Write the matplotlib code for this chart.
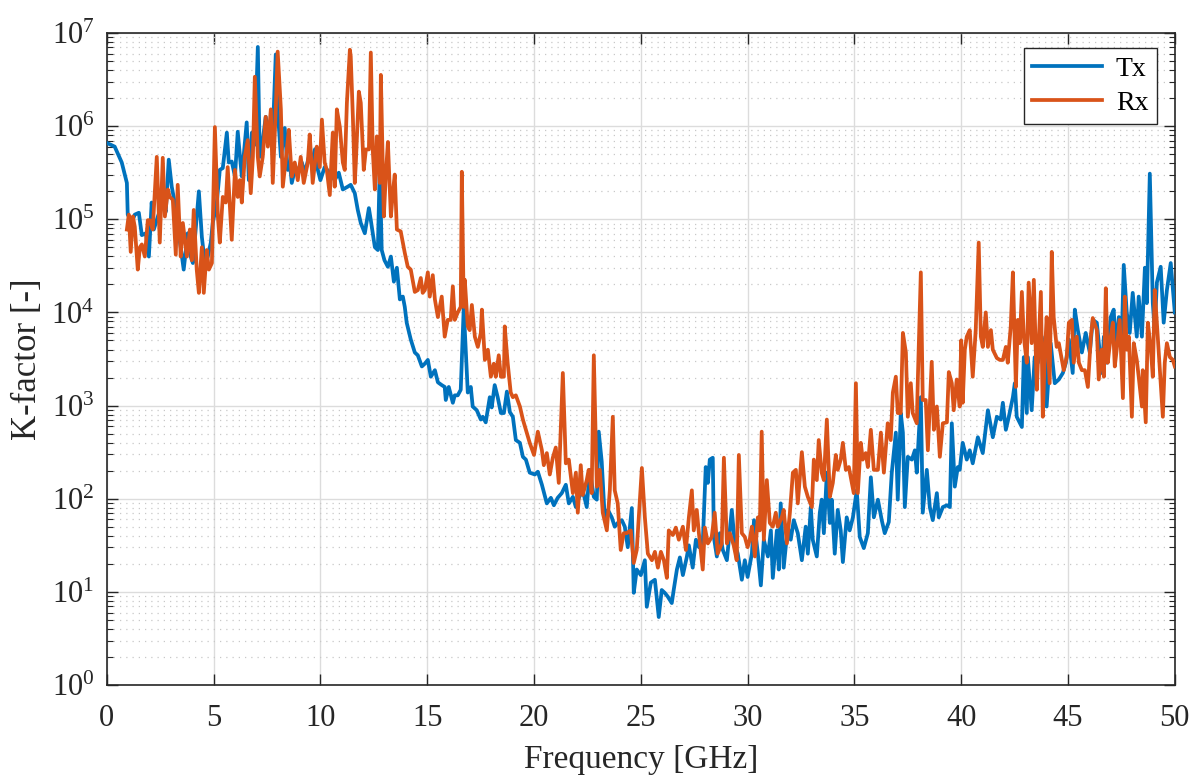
import numpy as np
import matplotlib
matplotlib.use("Agg")
import matplotlib.pyplot as plt
from matplotlib.ticker import LogLocator, MultipleLocator, NullFormatter

# === Data (frequency in GHz, log10 of K-factor) ===
tx_freq = [
    0.0, 0.37, 0.7, 0.94, 0.98, 1.17, 1.31, 1.5, 1.64, 1.83, 1.97, 2.1, 2.2, 2.39, 2.62, 2.76,
    2.9, 3.04, 3.18, 3.33, 3.46, 3.6, 3.79, 3.93, 4.03, 4.31, 4.45, 4.59, 4.73, 4.87, 4.96,
    5.15, 5.29, 5.43, 5.62, 5.71, 5.85, 6.0, 6.13, 6.32, 6.55, 6.65, 6.79, 6.93, 7.07, 7.16,
    7.3, 7.44, 7.54, 7.68, 7.77, 7.91, 8.0, 8.15, 8.33, 8.47, 8.57, 8.66, 8.8, 8.94, 9.13,
    9.27, 9.46, 9.6, 9.74, 9.88, 10.0, 10.2, 10.44, 10.67, 10.86, 11.05, 11.28, 11.42, 11.61,
    11.75, 11.89, 12.08, 12.27, 12.36, 12.55, 12.69, 12.78, 12.87, 13.0, 13.16, 13.3, 13.44,
    13.58, 13.72, 13.86, 13.95, 14.04, 14.23, 14.42, 14.56, 14.75, 14.89, 15.03, 15.17, 15.36,
    15.5, 15.68, 15.82, 15.87, 16.01, 16.2, 16.29, 16.43, 16.57, 16.71, 16.81, 16.9, 17.04,
    17.13, 17.32, 17.51, 17.6, 17.74, 17.93, 18.02, 18.16, 18.3, 18.45, 18.59, 18.73, 18.87,
    19.01, 19.15, 19.34, 19.48, 19.62, 19.8, 20.04, 20.18, 20.37, 20.6, 20.79, 20.93, 21.11,
    21.3, 21.49, 21.63, 21.82, 21.96, 22.1, 22.28, 22.47, 22.61, 22.8, 22.94, 23.03, 23.17,
    23.31, 23.46, 23.64, 23.78, 23.92, 24.11, 24.25, 24.39, 24.58, 24.67, 24.81, 25.0, 25.19,
    25.28, 25.47, 25.66, 25.84, 25.98, 26.12, 26.26, 26.45, 26.54, 26.69, 26.83, 26.97, 27.15,
    27.25, 27.43, 27.58, 27.72, 27.9, 28.04, 28.14, 28.23, 28.37, 28.42, 28.56, 28.7, 28.84,
    29.03, 29.26, 29.4, 29.54, 29.73, 29.87, 30.0, 30.2, 30.3, 30.48, 30.62, 30.76, 30.95,
    31.09, 31.18, 31.37, 31.46, 31.55, 31.69, 31.88, 32.02, 32.16, 32.35, 32.54, 32.72, 32.82,
    32.96, 33.05, 33.24, 33.38, 33.47, 33.57, 33.71, 33.85, 33.94, 34.08, 34.22, 34.36, 34.46,
    34.64, 34.78, 34.93, 35.11, 35.25, 35.44, 35.63, 35.77, 35.91, 36.1, 36.28, 36.42, 36.61,
    36.75, 36.94, 37.03, 37.17, 37.27, 37.36, 37.5, 37.69, 37.83, 37.92, 38.11, 38.2, 38.39,
    38.53, 38.67, 38.86, 38.95, 39.14, 39.33, 39.47, 39.56, 39.7, 39.84, 39.93, 40.07, 40.26,
    40.4, 40.54, 40.78, 41.01, 41.25, 41.48, 41.67, 41.85, 41.95, 42.09, 42.23, 42.42, 42.51,
    42.6, 42.84, 42.93, 43.07, 43.12, 43.3, 43.44, 43.59, 43.77, 43.91, 44.0, 44.19, 44.38,
    44.57, 44.76, 44.9, 45.04, 45.22, 45.32, 45.46, 45.65, 45.83, 46.02, 46.16, 46.35, 46.58,
    46.68, 46.82, 47.0, 47.14, 47.24, 47.38, 47.52, 47.61, 47.75, 47.89, 48.03, 48.22, 48.31,
    48.46, 48.6, 48.69, 48.83, 48.97, 49.06, 49.16, 49.34, 49.48, 49.63, 49.81, 50.0,
]
tx_log = [
    5.82, 5.78, 5.61, 5.39, 5.05, 4.97, 5.05, 5.07, 4.83, 4.85, 4.60, 5.18, 4.89, 5.03, 5.18, 5.08,
    5.64, 5.35, 5.18, 4.89, 4.70, 4.46, 4.85, 4.60, 4.53, 5.30, 4.81, 4.53, 4.60, 4.75, 4.96,
    5.18, 5.53, 5.55, 5.93, 5.61, 5.62, 5.46, 5.94, 5.46, 6.04, 5.42, 5.93, 5.80, 6.85, 5.67,
    5.85, 6.10, 5.96, 6.07, 5.89, 6.77, 6.18, 5.67, 5.98, 5.53, 5.61, 5.39, 5.53, 5.53, 5.61,
    5.50, 5.67, 5.61, 5.75, 5.53, 5.42, 5.56, 5.50, 5.42, 5.50, 5.32, 5.35, 5.37, 5.28,
    5.10, 4.96, 4.85, 5.12, 4.99, 4.70, 4.67, 5.59, 4.67, 4.56, 4.49, 4.60, 4.33,
    4.48, 4.14, 4.17, 4.06, 3.89, 3.71, 3.57, 3.54, 3.42, 3.45, 3.49, 3.31, 3.38,
    3.25, 3.22, 3.20, 3.06, 3.20, 3.03, 3.11, 3.11, 3.17, 4.05, 3.57, 3.14, 3.20,
    2.99, 2.95, 2.85, 2.88, 2.82, 3.09, 2.98, 3.22, 3.09, 2.92, 2.92, 3.15, 2.93,
    2.88, 2.63, 2.60, 2.45, 2.42, 2.28, 2.26, 2.29, 2.15, 1.95, 2.01, 1.93, 2.01,
    2.06, 2.15, 1.95, 2.02, 1.91, 2.01, 2.09, 1.91, 2.31, 2.02, 1.99, 2.72, 2.40,
    1.80, 1.88, 1.80, 1.70, 1.74, 1.77, 1.70, 1.48, 1.90, 0.99, 1.24, 1.18, 1.34,
    0.84, 1.10, 1.13, 0.73, 1.02, 0.99, 0.95, 0.88, 1.02, 1.24, 1.37, 1.18, 1.37,
    1.50, 1.26, 1.56, 1.48, 1.52, 2.34, 2.17, 2.42, 2.44, 1.59, 1.38, 1.63, 1.45,
    1.34, 1.88, 1.52, 1.41, 1.13, 1.34, 1.16, 1.41, 1.77, 1.41, 1.07, 1.56, 1.38,
    1.66, 1.15, 1.66, 1.24, 1.95, 1.26, 1.70, 1.56, 1.77, 1.63, 1.34, 1.70, 1.41,
    1.91, 1.56, 1.38, 1.85, 1.99, 1.63, 2.28, 1.74, 1.99, 1.41, 1.88, 1.66, 1.32,
    1.80, 1.66, 1.80, 2.09, 1.59, 1.47, 1.63, 2.23, 1.80, 1.99, 1.77, 1.63, 1.75,
    2.28, 2.71, 1.99, 2.92, 2.71, 1.91, 2.45, 2.42, 2.52, 2.28, 3.09, 1.85, 2.31,
    1.91, 1.77, 2.06, 1.80, 1.91, 1.93, 1.91, 2.81, 2.13, 2.34, 2.31, 2.60, 2.42,
    2.52, 2.38, 2.66, 2.49, 2.95, 2.66, 2.88, 2.85, 3.03, 2.74, 2.88, 3.09, 3.24,
    2.88, 2.77, 3.52, 2.92, 3.52, 2.95, 3.52, 3.46, 3.74, 3.57, 2.99, 3.67, 3.24,
    3.28, 3.35, 3.46, 3.71, 3.35, 4.03, 3.81, 3.57, 3.78, 3.57, 3.92, 3.89, 3.35,
    3.74, 3.46, 3.95, 4.03, 3.60, 3.95, 3.74, 4.51, 4.00, 3.78, 4.21, 3.74, 4.17,
    3.74, 4.48, 4.10, 5.49, 4.10, 3.81, 4.32, 4.49, 3.89, 4.24, 4.53, 4.00,
]

rx_freq = [
    0.94, 1.03, 1.12, 1.22, 1.31, 1.45, 1.55, 1.64, 1.78, 1.92, 2.01, 2.15, 2.34, 2.48, 2.62,
    2.72, 2.86, 2.95, 3.09, 3.23, 3.32, 3.46, 3.56, 3.75, 3.89, 3.98, 4.07, 4.21, 4.31, 4.45,
    4.54, 4.68, 4.78, 4.92, 5.06, 5.2, 5.29, 5.43, 5.57, 5.66, 5.85, 6.0, 6.13, 6.23, 6.32,
    6.46, 6.6, 6.74, 6.84, 6.93, 7.07, 7.16, 7.3, 7.44, 7.54, 7.68, 7.77, 7.91, 8.0, 8.15,
    8.24, 8.43, 8.52, 8.66, 8.8, 8.94, 9.08, 9.22, 9.41, 9.5, 9.64, 9.83, 9.97, 10.07, 10.2,
    10.3, 10.44, 10.58, 10.67, 10.77, 10.91, 11.05, 11.14, 11.24, 11.38, 11.42, 11.52, 11.61,
    11.66, 11.8, 11.89, 12.03, 12.13, 12.27, 12.36, 12.45, 12.55, 12.64, 12.78, 12.83, 12.97,
    13.06, 13.16, 13.3, 13.39, 13.48, 13.58, 13.76, 13.95, 14.09, 14.23, 14.42, 14.56, 14.7,
    14.79, 14.89, 15.03, 15.12, 15.26, 15.36, 15.5, 15.68, 15.82, 15.96, 16.1, 16.2, 16.29,
    16.43, 16.57, 16.62, 16.71, 16.76, 16.9, 16.99, 17.09, 17.23, 17.37, 17.51, 17.56, 17.7,
    17.84, 17.98, 18.12, 18.21, 18.35, 18.45, 18.59, 18.63, 18.77, 18.91, 19.01, 19.15, 19.34,
    19.48, 19.62, 19.8, 20.0, 20.18, 20.37, 20.46, 20.6, 20.74, 20.88, 21.02, 21.16, 21.35,
    21.49, 21.63, 21.82, 21.96, 22.05, 22.19, 22.28, 22.47, 22.56, 22.7, 22.8, 22.94, 23.08,
    23.22, 23.41, 23.55, 23.69, 23.78, 23.92, 24.06, 24.2, 24.34, 24.53, 24.67, 24.81, 25.05,
    25.19, 25.33, 25.52, 25.66, 25.8, 25.94, 26.08, 26.22, 26.31, 26.5, 26.64, 26.78, 26.97,
    27.11, 27.25, 27.39, 27.48, 27.62, 27.72, 27.9, 28.0, 28.14, 28.32, 28.46, 28.6, 28.79,
    28.89, 29.03, 29.17, 29.35, 29.49, 29.59, 29.73, 29.87, 30.0, 30.1, 30.2, 30.34, 30.48,
    30.57, 30.66, 30.76, 30.9, 31.04, 31.18, 31.32, 31.41, 31.6, 31.69, 31.84, 31.98, 32.12,
    32.26, 32.35, 32.54, 32.68, 32.82, 33.01, 33.1, 33.24, 33.33, 33.47, 33.57, 33.71, 33.85,
    33.99, 34.13, 34.22, 34.36, 34.46, 34.6, 34.74, 34.88, 34.97, 35.07, 35.16, 35.3, 35.39,
    35.53, 35.63, 35.77, 35.91, 36.1, 36.24, 36.38, 36.56, 36.7, 36.8, 36.94, 37.03, 37.17,
    37.27, 37.41, 37.5, 37.64, 37.73, 37.92, 37.97, 38.11, 38.2, 38.34, 38.44, 38.62, 38.72,
    38.86, 39.0, 39.14, 39.33, 39.42, 39.56, 39.65, 39.79, 39.93, 40.0, 40.07, 40.17, 40.26,
    40.4, 40.54, 40.68, 40.82, 40.92, 41.01, 41.15, 41.25, 41.39, 41.48, 41.67, 41.81, 41.95,
    42.09, 42.18, 42.32, 42.42, 42.56, 42.65, 42.74, 42.84, 42.93, 43.07, 43.16, 43.3, 43.4,
    43.54, 43.59, 43.73, 43.82, 43.91, 44.0, 44.14, 44.24, 44.33, 44.47, 44.57, 44.71, 44.8,
    44.94, 45.04, 45.18, 45.27, 45.41, 45.51, 45.65, 45.79, 45.93, 46.07, 46.16, 46.35, 46.44,
    46.58, 46.68, 46.77, 46.86, 47.0, 47.1, 47.19, 47.28, 47.42, 47.57, 47.66, 47.75, 47.85,
    47.99, 48.08, 48.22, 48.31, 48.46, 48.5, 48.64, 48.74, 48.88, 48.97, 49.06, 49.16, 49.3,
    49.44, 49.53, 49.63, 49.77, 49.91, 50.0,
]
rx_log = [
    4.89, 5.05, 4.65, 5.03, 4.92, 4.46, 4.70, 4.73, 4.60, 4.99, 4.99, 4.89, 5.67, 4.75, 5.66,
    5.03, 5.32, 5.24, 5.21, 4.62, 5.37, 4.60, 4.96, 4.60, 4.89, 4.56, 5.10, 4.46, 4.21, 4.70,
    4.21, 4.67, 4.46, 4.53, 5.99, 5.03, 4.75, 5.24, 5.18, 5.56, 4.78, 5.53, 5.24, 5.42, 5.18,
    5.67, 5.85, 5.28, 5.67, 6.53, 5.67, 5.46, 5.67, 6.10, 5.78, 6.18, 5.39, 6.18, 6.80, 6.18,
    5.35, 5.75, 5.96, 5.46, 5.61, 5.42, 5.67, 5.39, 5.61, 5.91, 5.39, 5.78, 5.56, 6.07, 5.61,
    5.53, 5.26, 5.93, 5.35, 6.18, 5.99, 5.61, 5.53, 6.25, 6.82, 6.75, 6.10, 5.39,
    5.61, 6.37, 6.25, 5.53, 5.75, 5.75, 6.79, 5.75, 5.32, 5.89, 5.39, 6.55, 5.03,
    5.46, 5.83, 5.03, 5.28, 5.48, 4.89, 4.87, 4.64, 4.49, 4.46, 4.22, 4.24, 4.37,
    4.21, 4.24, 4.43, 4.17, 4.40, 4.14, 3.95, 4.17, 3.74, 3.92, 3.92, 4.28, 3.92,
    4.00, 4.06, 5.51, 4.06, 4.35, 3.85, 3.81, 4.08, 3.74, 3.63, 3.78, 4.03, 3.49,
    3.60, 3.31, 3.45, 3.31, 3.54, 3.31, 3.31, 3.85, 3.45, 3.14, 3.09, 3.11, 2.99,
    2.85, 2.74, 2.60, 2.47, 2.72, 2.52, 2.36, 2.49, 2.26, 2.44, 2.55, 2.17, 3.35,
    2.38, 2.42, 2.06, 2.28, 1.85, 2.36, 2.04, 2.20, 2.31, 2.06, 3.54, 2.13, 2.31,
    1.85, 1.66, 2.09, 2.88, 2.09, 1.95, 1.45, 1.63, 1.63, 1.66, 1.31, 1.45, 2.33,
    1.80, 1.41, 1.34, 1.43, 1.26, 1.43, 1.34, 1.15, 1.66, 1.61, 1.69, 1.56, 1.70,
    1.45, 1.80, 2.09, 1.66, 1.88, 1.63, 1.24, 1.69, 1.52, 1.59, 1.85, 1.41, 1.52,
    2.44, 1.52, 1.63, 1.50, 1.34, 2.47, 1.63, 1.59, 1.48, 1.56, 1.70, 1.38, 1.80,
    1.66, 2.72, 1.56, 2.20, 1.74, 1.70, 1.85, 1.70, 1.80, 1.88, 1.52, 1.85, 2.28,
    2.31, 1.95, 2.50, 2.13, 2.02, 1.91, 2.42, 2.20, 2.63, 2.28, 2.20, 2.85, 2.02,
    2.17, 2.47, 2.31, 2.42, 2.60, 2.31, 2.34, 2.17, 2.06, 3.24, 2.06, 2.60, 2.42,
    2.49, 2.34, 2.74, 2.31, 2.31, 2.71, 2.28, 2.81, 2.63, 3.14, 3.31, 2.92, 2.92,
    3.78, 3.57, 2.88, 3.24, 2.92, 2.81, 3.28, 4.43, 3.06, 3.06, 2.52, 3.47, 2.74,
    2.99, 2.45, 2.81, 2.82, 3.36, 3.24, 2.95, 3.28, 2.99, 3.70, 3.03, 3.60, 3.74,
    3.81, 3.31, 3.81, 4.75, 3.74, 3.63, 4.00, 3.63, 3.81, 3.60, 3.51, 3.49, 3.49,
    3.63, 3.46, 3.85, 4.43, 3.20, 3.92, 3.67, 4.22, 3.74, 3.46, 4.32, 3.67, 4.35,
    3.17, 3.46, 4.22, 2.88, 3.52, 3.95, 3.24, 4.65, 3.95, 3.63, 3.67, 3.49, 3.38,
    3.52, 3.89, 3.92, 3.46, 3.74, 3.46, 3.38, 3.38, 3.20, 3.74, 3.94, 3.81, 3.28,
    3.60, 3.31, 4.26, 3.46, 3.74, 3.89, 3.42, 3.60, 3.92, 3.08, 4.17, 3.60, 3.74,
    2.88, 3.67, 3.49, 3.31, 2.99, 3.38, 2.82, 3.89, 3.60, 3.31, 4.24, 3.89, 3.38,
    2.88, 3.46, 3.67, 3.52, 3.49, 3.42,
]

tx_k = 10 ** np.array(tx_log)
rx_k = 10 ** np.array(rx_log)

# === MATLAB-like look ===
plt.rcParams['font.family'] = ['Liberation Serif', 'DejaVu Serif']
plt.rcParams['mathtext.fontset'] = 'custom'
plt.rcParams['mathtext.rm'] = 'Liberation Serif'
plt.rcParams['mathtext.it'] = 'Liberation Serif:italic'

fig = plt.figure(figsize=(12, 7.78), dpi=100)
ax = fig.add_axes([0.089, 0.1195, 0.89, 0.8381])

ax.plot(tx_freq, tx_k, color='#0072BD', lw=2.7, label='Tx', zorder=3)
ax.plot(rx_freq, rx_k, color='#D95319', lw=2.7, label='Rx', zorder=4)

ax.set_yscale('log')
ax.set_xlim(0, 50)
ax.set_ylim(1, 1e7)
ax.xaxis.set_major_locator(MultipleLocator(5))
ax.yaxis.set_major_locator(LogLocator(base=10, numticks=20))
ax.yaxis.set_minor_locator(LogLocator(base=10, subs=np.arange(2, 10), numticks=20))
ax.yaxis.set_minor_formatter(NullFormatter())

ax.grid(True, which='major', color='#dcdcdc', lw=1.0, ls='-')
ax.grid(True, which='minor', axis='y', color='#c8c8c8', lw=0.9, ls=(0, (1, 4)))
ax.set_axisbelow(True)

ax.tick_params(which='both', direction='in', top=True, right=True, colors='#262626',
               labelsize=22)
ax.tick_params(axis='x', pad=14)
ax.tick_params(axis='y', pad=9)
ax.tick_params(which='major', length=8, width=1.0)
ax.tick_params(which='minor', length=4, width=0.8)
for s in ax.spines.values():
    s.set_color('#262626')
    s.set_linewidth(1.2)

ax.set_xlabel('Frequency [GHz]', fontsize=24, color='#262626', labelpad=8)
ax.set_ylabel('K-factor [-]', fontsize=25, color='#262626', labelpad=5)

leg = ax.legend(loc='upper right', bbox_to_anchor=(0.983, 0.977), fontsize=20,
                frameon=True, fancybox=False, edgecolor='#262626', framealpha=1,
                handlelength=2.5, handletextpad=0.5, borderpad=0.3,
                labelspacing=0.3, borderaxespad=0)
leg.get_frame().set_linewidth(1.0)

fig.savefig('out.png', dpi=100)
